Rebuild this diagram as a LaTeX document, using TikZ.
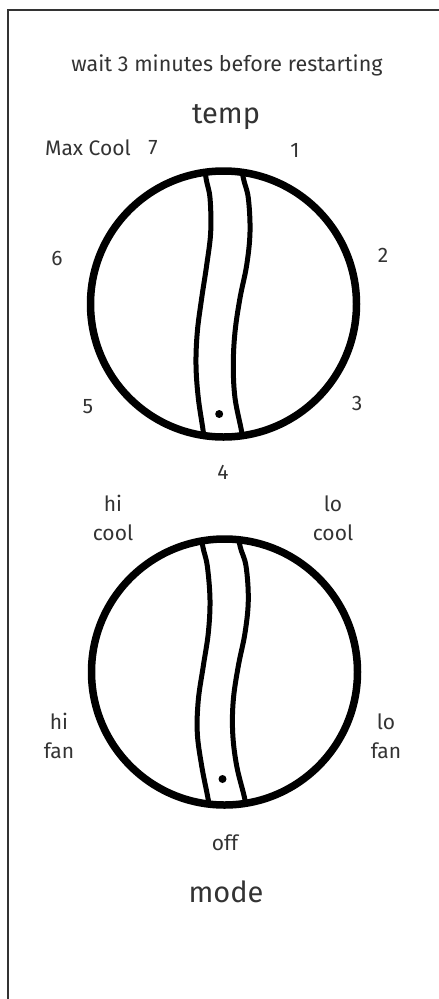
\documentclass[tikz,border=0pt]{standalone}
\usepackage{fontspec}
\setmainfont{Fira Sans}
\definecolor{txt}{HTML}{333333}
\definecolor{frm}{HTML}{333333}
\begin{document}
\begin{tikzpicture}[x=1pt,y=-1pt,
  lab/.style={inner sep=0pt, text=txt, font=\fontsize{21}{24}\selectfont},
  labtwo/.style={lab, align=center, font=\fontsize{21}{29}\selectfont},
  big/.style={inner sep=0pt, text=txt, font=\fontsize{29}{32}\selectfont},
  ring/.style={line width=7.5pt, draw=black},
  groove/.style={line width=5pt, draw=black},
]
\useasboundingbox (0,0) rectangle (439,999);
\fill[white] (0,0) rectangle (439,999);
% frame
\draw[line width=2pt, frm] (439,10) -- (8,10) -- (8,999);

% texts
\node[lab, font=\fontsize{21.5}{24}\selectfont] (wait) at (227,65) {wait 3 minutes before restarting};
\node[big] (temp) at (226,117) {temp};
\node[lab] (maxcool) at (88,148) {Max Cool};
\node[lab] (t7) at (153,148) {7};
\node[lab] (t1) at (295,150) {1};
\node[lab] (t6) at (57,258) {6};
\node[lab] (t2) at (383,255) {2};
\node[lab] (t5) at (88,407) {5};
\node[lab] (t3) at (357,403) {3};
\node[lab] (t4) at (223,472) {4};
\node[labtwo] (hicool) at (113,518) {hi\\cool};
\node[labtwo] (locool) at (333,518) {lo\\cool};
\node[labtwo] (hifan) at (59,736) {hi\\fan};
\node[labtwo] (lofan) at (386,736) {lo\\fan};
\node[lab] (off) at (225,843) {off};
\node[big] (mode) at (226,892) {mode};

% knob 1
\begin{scope}[shift={(223.5,304)}]
  \node[circle, minimum size=266pt, inner sep=0pt] (knobA) at (0,0) {};
  \begin{scope}
    \clip (0,0) circle (133);
    \draw[groove] plot[smooth, tension=0.6] coordinates {(-20,-150) (-17.5,-126) (-13.5,-106) (-12.8,-72) (-16.8,-39) (-21.8,-6) (-26.2,28) (-27.5,61) (-25.2,94) (-20.2,128) (-18,150)};
    \draw[groove] plot[smooth, tension=0.6] coordinates {(16,-150) (19.8,-126) (24.8,-106) (26.5,-72) (23.2,-39) (16.5,-6) (11.5,28) (9.8,61) (11.5,94) (18.2,128) (21,150)};
  \end{scope}
  \draw[ring] (0,0) circle (133);
  \fill (-4.3,110) circle (4);
\end{scope}

% knob 2
\begin{scope}[shift={(224.5,672)}]
  \node[circle, minimum size=266pt, inner sep=0pt] (knobB) at (0,0) {};
  \begin{scope}
    \clip (0,0) circle (133);
    \draw[groove] plot[smooth, tension=0.6] coordinates {(-25,-150) (-21.8,-126) (-17.2,-106) (-14.5,-72) (-16.2,-39) (-21.2,-6) (-26.2,28) (-27.2,61) (-22.8,94) (-16.2,128) (-13,150)};
    \draw[groove] plot[smooth, tension=0.6] coordinates {(12,-150) (15.5,-126) (21.5,-106) (23.8,-72) (20.5,-39) (13.8,-6) (8.8,28) (8.2,61) (12.2,94) (20.5,128) (23,150)};
  \end{scope}
  \draw[ring] (0,0) circle (133);
  \fill (-2,107) circle (4);
\end{scope}
\end{tikzpicture}
\end{document}
